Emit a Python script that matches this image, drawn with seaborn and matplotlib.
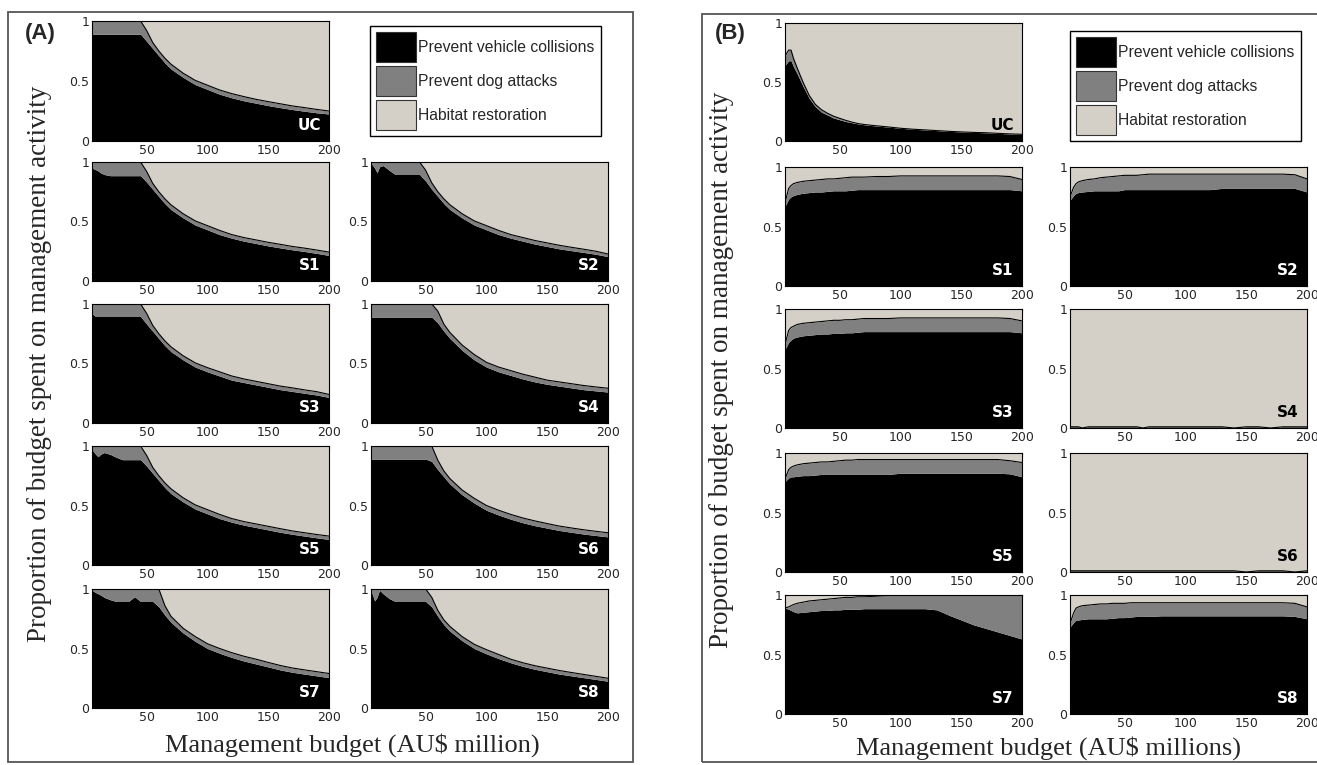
import numpy as np
import matplotlib
matplotlib.use("Agg")
import matplotlib.pyplot as plt
from matplotlib.patches import Patch, Rectangle
import seaborn as sns

# budget grid (AU$ million) shared by every subplot
budget = [5, 8, 10, 12, 15, 20, 25, 30, 35, 40, 45, 50, 55, 60, 65, 70, 80, 90,
          100, 110, 120, 130, 140, 150, 160, 170, 180, 190, 200]
scenarios = ["UC", "S1", "S2", "S3", "S4", "S5", "S6", "S7", "S8"]
activities = ["Prevent vehicle collisions", "Prevent dog attacks", "Habitat restoration"]

# ---- panel (A): proportion of budget, vehicle collisions / dog attacks ----
a_uc_vehicle = [.89, .89, .89, .89, .89, .89, .89, .89, .89, .89, .89, .83, .77, .71, .65, .60, .53, .47,
                .43, .39, .36, .335, .315, .295, .278, .262, .248, .235, .225]
a_uc_dog = [.11, .11, .11, .11, .11, .11, .11, .11, .11, .11, .11, .09, .05, .04, .04, .04, .035, .035,
            .035, .035, .035, .035, .032, .033, .032, .03, .03, .028, .025]
a_s1_vehicle = [.95, .935, .925, .91, .895, .885, .885, .885, .885, .885, .885, .83, .77, .71, .65, .60, .53, .47,
                .43, .39, .36, .335, .315, .295, .278, .262, .248, .232, .215]
a_s1_dog = [.05, .065, .075, .09, .105, .115, .115, .115, .115, .115, .115, .09, .05, .04, .04, .04, .035, .035,
            .035, .035, .03, .03, .03, .03, .03, .028, .028, .028, .028]
a_s2_vehicle = [.99, .95, .91, .96, .97, .93, .895, .895, .895, .895, .895, .84, .77, .71, .65, .60, .53, .47,
                .43, .39, .36, .335, .31, .29, .27, .255, .24, .225, .205]
a_s2_dog = [.01, .05, .09, .04, .03, .07, .105, .105, .105, .105, .105, .09, .055, .04, .04, .04, .035, .035,
            .035, .035, .03, .03, .03, .03, .03, .028, .027, .025, .022]
a_s3_vehicle = [.92, .895, .895, .895, .895, .895, .895, .895, .895, .895, .895, .83, .77, .71, .65, .60, .53, .47,
                .43, .395, .36, .34, .32, .30, .28, .265, .25, .235, .215]
a_s3_dog = [.08, .105, .105, .105, .105, .105, .105, .105, .105, .105, .105, .09, .05, .04, .04, .04, .035, .035,
            .035, .035, .035, .03, .03, .03, .03, .03, .028, .028, .025]
a_s4_vehicle = [.89, .89, .89, .89, .89, .89, .89, .89, .89, .89, .89, .89, .89, .84, .77, .71, .61, .53,
                .47, .43, .40, .37, .345, .325, .31, .295, .28, .27, .26]
a_s4_dog = [.11, .11, .11, .11, .11, .11, .11, .11, .11, .11, .11, .11, .11, .10, .06, .05, .045, .045,
            .04, .04, .04, .04, .04, .035, .035, .035, .035, .033, .032]
a_s5_vehicle = [.97, .93, .91, .93, .945, .93, .905, .885, .885, .885, .885, .83, .77, .71, .65, .60, .53, .47,
                .43, .39, .36, .335, .315, .295, .275, .258, .243, .228, .215]
a_s5_dog = [.03, .07, .09, .07, .055, .07, .095, .115, .115, .115, .115, .09, .05, .04, .04, .04, .035, .035,
            .035, .035, .03, .03, .03, .03, .03, .028, .028, .028, .028]
a_s6_vehicle = [.89, .89, .89, .89, .89, .89, .89, .89, .89, .89, .89, .89, .87, .80, .74, .68, .59, .52,
                .46, .42, .385, .355, .33, .31, .29, .275, .26, .248, .236]
a_s6_dog = [.11, .11, .11, .11, .11, .11, .11, .11, .11, .11, .11, .11, .13, .08, .05, .045, .04, .04,
            .04, .04, .04, .04, .04, .038, .037, .036, .036, .035, .035]
a_s7_vehicle = [.99, .97, .96, .95, .93, .91, .895, .895, .895, .935, .895, .895, .895, .85, .78, .72, .63, .56,
                .50, .46, .425, .395, .37, .345, .32, .30, .285, .27, .255]
a_s7_dog = [.01, .03, .04, .05, .07, .09, .105, .105, .105, .065, .105, .105, .105, .15, .08, .05, .04, .04,
            .04, .04, .04, .04, .04, .038, .037, .036, .035, .035, .035]
a_s8_vehicle = [.99, .90, .93, .99, .96, .92, .895, .895, .895, .895, .895, .895, .85, .77, .70, .645, .565, .50,
                .455, .415, .38, .35, .325, .305, .285, .27, .255, .24, .225]
a_s8_dog = [.01, .10, .07, .01, .04, .08, .105, .105, .105, .105, .105, .105, .08, .05, .04, .04, .035, .035,
            .035, .035, .03, .03, .03, .03, .03, .028, .027, .026, .025]

# ---- panel (B) ----
b_uc_vehicle = [.64, .68, .68, .63, .57, .46, .36, .29, .245, .22, .195, .18, .165, .155, .145, .138, .127, .118,
                .108, .10, .094, .088, .082, .077, .073, .07, .065, .06, .057]
b_uc_dog = [.08, .09, .09, .07, .05, .035, .025, .02, .02, .015, .015, .012, .01, .005, .003, .002, .002, .001,
            0, 0, 0, 0, 0, 0, 0, 0, 0, 0, 0]
b_s1_vehicle = [.67, .73, .75, .76, .77, .78, .785, .79, .79, .795, .80, .80, .80, .805, .81, .81, .81, .81,
                .81, .81, .81, .81, .81, .81, .81, .81, .81, .81, .80]
b_s1_dog = [.03, .09, .095, .10, .10, .10, .10, .10, .105, .105, .10, .105, .11, .11, .105, .105, .11, .11,
            .115, .115, .115, .115, .115, .115, .115, .115, .115, .11, .095]
b_s2_vehicle = [.72, .76, .78, .785, .79, .795, .80, .80, .80, .80, .80, .81, .81, .81, .81, .81, .81, .81,
                .81, .81, .81, .82, .82, .82, .82, .82, .82, .82, .79]
b_s2_dog = [.03, .07, .08, .09, .095, .10, .10, .11, .115, .12, .125, .12, .12, .12, .125, .13, .13, .13,
            .13, .13, .13, .12, .12, .12, .12, .12, .12, .115, .11]
b_s3_vehicle = [.66, .72, .74, .755, .765, .775, .78, .785, .79, .79, .795, .795, .80, .80, .805, .81, .81, .81,
                .81, .81, .81, .81, .81, .81, .81, .81, .81, .81, .80]
b_s3_dog = [.04, .10, .105, .10, .105, .105, .105, .105, .105, .11, .11, .11, .11, .11, .11, .11, .11, .11,
            .115, .115, .115, .115, .115, .115, .115, .115, .115, .11, .10]
b_s4_vehicle = [.01, .01, .01, .01, .0, .01, .01, .01, .01, .01, .01, .01, .01, .01, .0, .01, .01, .01,
                .01, .01, .01, .01, .0, .01, .01, .0, .01, .01, .01]
b_s4_dog = [0, 0, 0, 0, 0, 0, 0, 0, 0, 0, 0, 0, 0, 0, 0, 0, 0, 0, 0, 0, 0, 0, 0, 0, 0, 0, 0, 0, 0]
b_s5_vehicle = [.76, .79, .80, .80, .805, .81, .81, .815, .82, .82, .82, .82, .82, .82, .82, .82, .82, .82,
                .83, .83, .83, .83, .83, .83, .83, .83, .83, .825, .80]
b_s5_dog = [.02, .07, .08, .09, .095, .10, .105, .105, .105, .105, .11, .115, .12, .12, .125, .125, .125, .125,
            .115, .115, .115, .115, .115, .115, .115, .115, .115, .11, .12]
b_s6_vehicle = [.01, .01, .01, .01, .01, .01, .01, .01, .01, .01, .01, .01, .01, .01, .01, .01, .01, .01,
                .01, .01, .01, .01, .01, .0, .01, .01, .01, .0, .01]
b_s6_dog = [0, 0, 0, 0, 0, 0, 0, 0, 0, 0, 0, 0, 0, 0, 0, 0, 0, 0, 0, 0, 0, 0, 0, 0, 0, 0, 0, 0, 0]
b_s7_vehicle = [.89, .88, .87, .86, .85, .855, .86, .865, .87, .87, .875, .875, .88, .88, .88, .885, .885, .885,
                .885, .885, .885, .875, .83, .79, .75, .72, .69, .66, .63]
b_s7_dog = [0, .02, .04, .06, .08, .085, .09, .09, .09, .095, .095, .10, .10, .10, .105, .10, .105, .11,
            .115, .115, .115, .125, .17, .21, .25, .28, .31, .34, .37]
b_s8_vehicle = [.73, .77, .79, .79, .795, .80, .80, .80, .80, .805, .81, .81, .815, .82, .82, .82, .825, .825,
                .825, .825, .825, .825, .825, .825, .825, .825, .825, .82, .80]
b_s8_dog = [.03, .08, .10, .11, .115, .115, .12, .125, .125, .125, .12, .12, .12, .115, .115, .115, .11, .11,
            .11, .11, .11, .11, .11, .11, .11, .11, .11, .11, .10]

panel_a = {"UC": (a_uc_vehicle, a_uc_dog), "S1": (a_s1_vehicle, a_s1_dog), "S2": (a_s2_vehicle, a_s2_dog),
           "S3": (a_s3_vehicle, a_s3_dog), "S4": (a_s4_vehicle, a_s4_dog), "S5": (a_s5_vehicle, a_s5_dog),
           "S6": (a_s6_vehicle, a_s6_dog), "S7": (a_s7_vehicle, a_s7_dog), "S8": (a_s8_vehicle, a_s8_dog)}
panel_b = {"UC": (b_uc_vehicle, b_uc_dog), "S1": (b_s1_vehicle, b_s1_dog), "S2": (b_s2_vehicle, b_s2_dog),
           "S3": (b_s3_vehicle, b_s3_dog), "S4": (b_s4_vehicle, b_s4_dog), "S5": (b_s5_vehicle, b_s5_dog),
           "S6": (b_s6_vehicle, b_s6_dog), "S7": (b_s7_vehicle, b_s7_dog), "S8": (b_s8_vehicle, b_s8_dog)}

colors = ["#000000", "#808080", "#d4d0c8"]

sns.set_style("white", {"axes.edgecolor": "black", "axes.linewidth": 0.9})
plt.rcParams["font.family"] = ["Liberation Sans Narrow", "DejaVu Sans"]

W, H = 1317, 765
fig = plt.figure(figsize=(W / 100, H / 100), dpi=100)


def px_axes(left, top, width, height):
    return fig.add_axes([left / W, 1 - (top + height) / H, width / W, height / H])


def draw(ax, vehicle, dog, name):
    x = np.array(budget, dtype=float)
    v = np.array(vehicle)
    top = v + np.array(dog)
    ax.fill_between(x, 0, v, color=colors[0], lw=0)
    ax.fill_between(x, v, top, color=colors[1], lw=0)
    ax.fill_between(x, top, 1, color=colors[2], lw=0)
    sns.lineplot(x=x, y=top, ax=ax, color="black", lw=0.8, legend=False)
    ax.set_xlim(5, 200)
    ax.set_ylim(0, 1)
    ax.set_xticks([50, 100, 150, 200])
    ax.set_yticks([0, 0.5, 1])
    ax.set_yticklabels(["0", "0.5", "1"])
    ax.tick_params(direction="in", top=True, right=True, length=3, width=0.8,
                   labelsize=9, pad=2)
    ax.set_xlabel("")
    ax.set_ylabel("")
    # label sits on black where vehicle spending dominates, on light fill otherwise
    label_color = "white" if v[-1] > 0.15 else "black"
    ax.text(0.965, 0.07, name, transform=ax.transAxes, ha="right", va="bottom",
            color=label_color, fontweight="bold", fontsize=11)


def draw_panel(data, uc_box, col_lefts, row_tops, width, height):
    draw(px_axes(*uc_box), *data["UC"], "UC")
    k = 1
    for top in row_tops:
        for left in col_lefts:
            name = scenarios[k]
            draw(px_axes(left, top, width, height), *data[name], name)
            k += 1


draw_panel(panel_a, (92, 21, 237, 120), [92, 371], [162, 304, 446, 589], 237, 119)
draw_panel(panel_b, (785, 23, 237, 118), [785, 1070], [167, 309, 453, 595], 237, 119)

# panel frames
fig.patches.append(Rectangle((8 / W, 3 / H), 625 / W, 750 / H, transform=fig.transFigure,
                             fill=False, edgecolor="#555555", lw=1.3))
fig.patches.append(Rectangle((702 / W, 3 / H), 640 / W, 748 / H, transform=fig.transFigure,
                             fill=False, edgecolor="#555555", lw=1.3))

handles = [Patch(facecolor=c, edgecolor="#333333", lw=0.8) for c in colors]
for lx, ly in [(370, 26), (1070, 31)]:
    fig.legend(handles, activities, loc="upper left", bbox_to_anchor=(lx / W, 1 - ly / H),
               frameon=True, fancybox=False, edgecolor="black", framealpha=1,
               prop={"family": "Liberation Sans", "size": 11.3},
               handlelength=2.5, handleheight=2.5, labelspacing=0.3,
               handletextpad=0.15, borderpad=0.4, borderaxespad=0)

fig.text(25 / W, 1 - 33 / H, "(A)", fontsize=16, fontweight="bold", family="Liberation Sans", va="center")
fig.text(715 / W, 1 - 34 / H, "(B)", fontsize=16, fontweight="bold", family="Liberation Sans", va="center")

ylab = "Proportion of budget spent on management activity"
fig.text(40 / W, 1 - 364 / H, ylab, rotation=90, ha="center", va="center",
         family="Liberation Serif", fontsize=19.5)
fig.text(722 / W, 1 - 370 / H, ylab, rotation=90, ha="center", va="center",
         family="Liberation Serif", fontsize=19.5)
fig.text(352 / W, 1 - 745 / H, "Management budget (AU$ million)", ha="center", va="center",
         family="Liberation Serif", fontsize=19)
fig.text(1048 / W, 1 - 748 / H, "Management budget (AU$ millions)", ha="center", va="center",
         family="Liberation Serif", fontsize=19)

fig.savefig("out.png", dpi=100)
